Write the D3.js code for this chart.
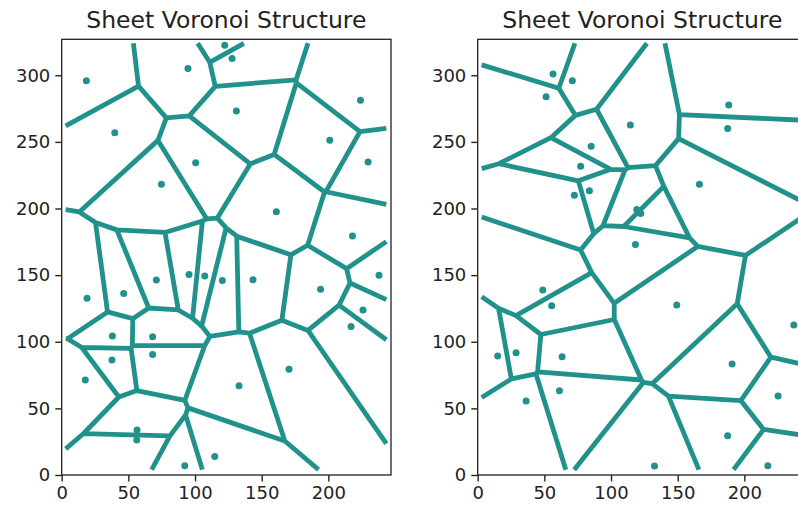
<!DOCTYPE html>
<html>
<head>
<meta charset="UTF-8">
<script src="https://d3js.org/d3.v7.min.js"></script>
<style>
  body { margin: 0; background: #fff; }
  .tick text { font-family: "DejaVu Sans", sans-serif; font-size: 18px; fill: #222; }
  .title { font-family: "DejaVu Sans", sans-serif; font-size: 23.5px; fill: #222; }
</style>
</head>
<body>
<svg id="chart" width="798" height="511"></svg>
<script>
// seed points of the left sheet (x, y)
const leftSeeds = [
  [18.5, 295.8], [94.7, 305.0], [122.3, 322.5], [127.8, 312.6], [131.0, 273.1],
  [224.1, 281.3], [39.8, 256.8], [201.1, 251.3], [229.8, 235.0], [100.5, 234.3],
  [74.8, 218.3], [161.0, 197.5], [218.1, 179.3], [19.0, 132.6], [46.5, 136.3],
  [71.0, 146.3], [95.5, 150.5], [107.3, 149.3], [120.5, 146.0], [143.5, 146.5],
  [194.2, 139.5], [238.0, 150.0], [226.0, 123.8], [217.0, 111.5], [38.0, 104.3],
  [68.2, 103.8], [68.2, 90.5], [37.7, 86.3], [17.7, 71.3], [133.0, 67.0],
  [170.5, 79.3], [56.5, 33.8], [56.3, 26.3], [92.3, 6.9], [114.8, 13.8]
];

// seed points of the right sheet (x, y)
const rightSeeds = [
  [56.5, 301.0], [71.0, 295.8], [51.3, 283.8], [188.3, 277.6], [187.5, 260.0],
  [114.5, 262.6], [85.1, 246.8], [77.2, 231.8], [166.3, 218.3], [72.5, 210.0],
  [83.8, 213.3], [118.3, 173.0], [48.8, 138.8], [55.5, 127.0], [149.3, 127.5],
  [237.1, 112.5], [15.0, 89.3], [28.8, 91.8], [63.3, 88.8], [36.3, 55.5],
  [61.3, 63.3], [132.6, 6.8], [190.8, 83.3], [225.3, 59.3], [187.5, 29.5],
  [217.6, 7.0], [119.3, 199.3], [122.3, 196.3]
];

const xTicks = [0, 50, 100, 150, 200];
const yTicks = [0, 50, 100, 150, 200, 250, 300];
const titleText = "Sheet Voronoi Structure";

const xDomain = [0, 247], yDomain = [0, 327];
const clipBox = [3, 4, 243.5, 324]; // where the cell edges stop
const teal = "#21918c";

const svg = d3.select("#chart");

function drawPanel(seeds, left, id) {
  const x = d3.scaleLinear().domain(xDomain).range([left, left + 329.3]);
  const y = d3.scaleLinear().domain(yDomain).range([475, 39.3]);

  const g = svg.append("g");

  g.append("clipPath").attr("id", id)
    .append("rect")
    .attr("x", x(0)).attr("y", y(yDomain[1]))
    .attr("width", x(xDomain[1]) - x(0)).attr("height", y(0) - y(yDomain[1]));

  const plot = g.append("g").attr("clip-path", "url(#" + id + ")");

  // voronoi cells from the seeds
  const delaunay = d3.Delaunay.from(seeds, d => x(d[0]), d => y(d[1]));
  const voronoi = delaunay.voronoi([x(clipBox[0]), y(clipBox[3]), x(clipBox[2]), y(clipBox[1])]);

  plot.append("path")
    .attr("d", voronoi.render())
    .attr("fill", "none")
    .attr("stroke", teal)
    .attr("stroke-width", 4.8);

  plot.selectAll("circle").data(seeds).enter().append("circle")
    .attr("cx", d => x(d[0]))
    .attr("cy", d => y(d[1]))
    .attr("r", 3.5)
    .attr("fill", teal);

  // axes
  const xAxis = g.append("g").attr("transform", "translate(0," + y(0) + ")")
    .call(d3.axisBottom(x).tickValues(xTicks).tickSize(6.4).tickPadding(5));
  const yAxis = g.append("g").attr("transform", "translate(" + x(0) + ",0)")
    .call(d3.axisLeft(y).tickValues(yTicks).tickSize(6.4).tickPadding(5));
  [xAxis, yAxis].forEach(a => {
    a.select(".domain").remove();
    a.selectAll(".tick line").attr("stroke", "#222").attr("stroke-width", 1.4);
  });

  g.append("rect")
    .attr("x", x(0)).attr("y", y(yDomain[1]))
    .attr("width", x(xDomain[1]) - x(0)).attr("height", y(0) - y(yDomain[1]))
    .attr("fill", "none").attr("stroke", "#222").attr("stroke-width", 1.3);

  g.append("text").attr("class", "title")
    .attr("x", (x(0) + x(xDomain[1])) / 2)
    .attr("y", 28.3)
    .attr("text-anchor", "middle")
    .text(titleText);
}

drawPanel(leftSeeds, 61.7, "clipLeft");
drawPanel(rightSeeds, 477.7, "clipRight");
</script>
</body>
</html>
